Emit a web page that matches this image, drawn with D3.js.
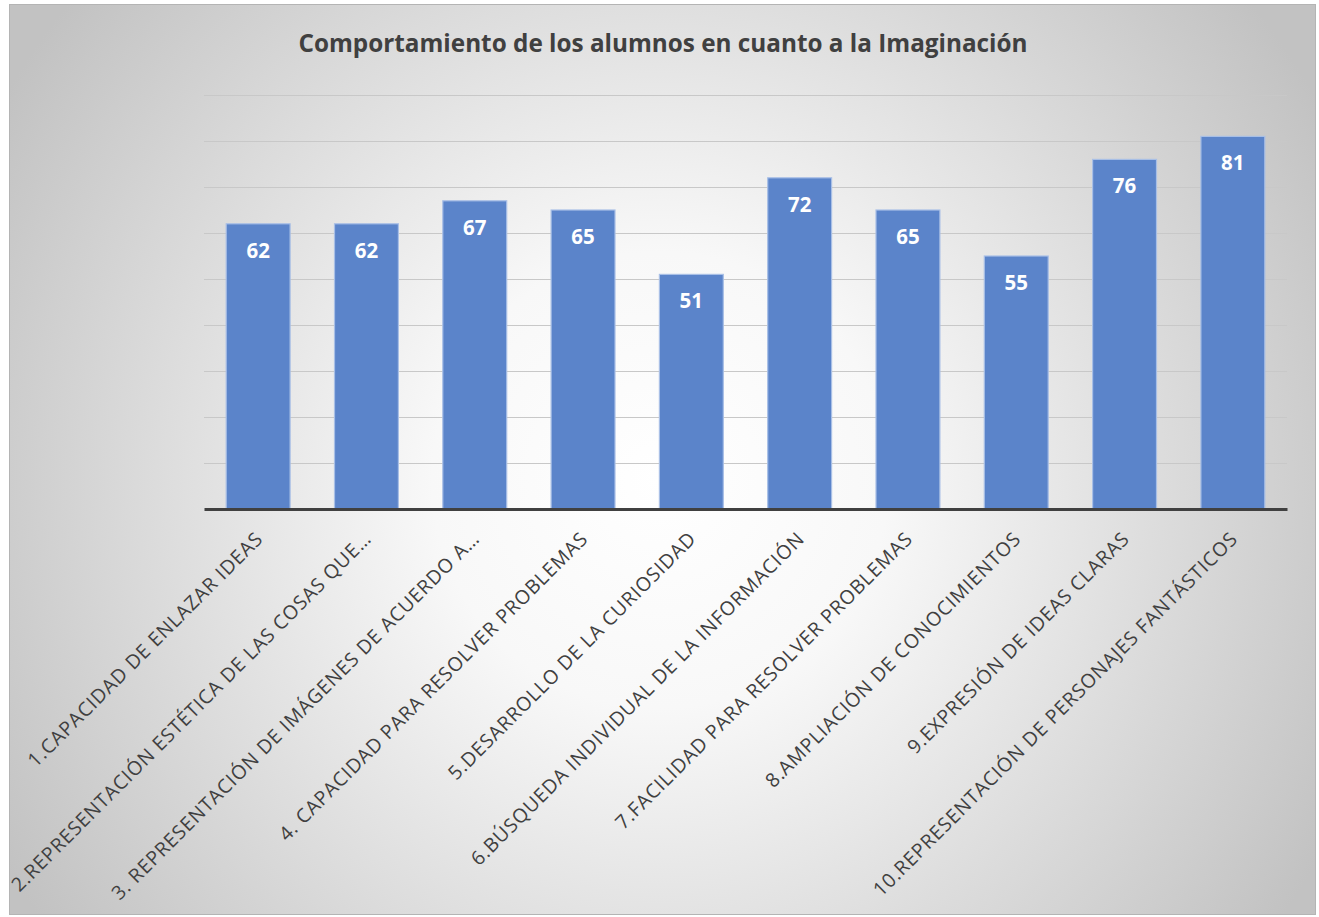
<!DOCTYPE html>
<html>
<head>
<meta charset="utf-8">
<script src="https://cdn.jsdelivr.net/npm/d3@7"></script>
<style>
  html, body { margin: 0; padding: 0; background: #ffffff; }
  svg { display: block; }
</style>
</head>
<body>
<svg id="chart" width="1319" height="917"></svg>
<script>
// Chart content
const chartTitle = "Comportamiento de los alumnos en cuanto a la Imaginación";
const categories = [
  "1.CAPACIDAD DE ENLAZAR IDEAS",
  "2.REPRESENTACIÓN ESTÉTICA DE LAS COSAS QUE…",
  "3. REPRESENTACIÓN DE IMÁGENES DE ACUERDO A…",
  "4. CAPACIDAD PARA RESOLVER PROBLEMAS",
  "5.DESARROLLO DE LA CURIOSIDAD",
  "6.BÚSQUEDA INDIVIDUAL DE LA INFORMACIÓN",
  "7.FACILIDAD PARA RESOLVER PROBLEMAS",
  "8.AMPLIACIÓN DE CONOCIMIENTOS",
  "9.EXPRESIÓN DE IDEAS CLARAS",
  "10.REPRESENTACIÓN DE PERSONAJES FANTÁSTICOS"
];
const values = [62, 62, 67, 65, 51, 72, 65, 55, 76, 81];
const gridTicks = [0, 10, 20, 30, 40, 50, 60, 70, 80, 90];

const svg = d3.select("#chart");
const W = 1319, H = 917;

// Background: chart frame with radial shading
const defs = svg.append("defs");
const grad = defs.append("radialGradient")
  .attr("id", "bg")
  .attr("gradientUnits", "userSpaceOnUse")
  .attr("cx", 660).attr("cy", 480).attr("r", 760);
grad.append("stop").attr("offset", "0%").attr("stop-color", "#ffffff");
grad.append("stop").attr("offset", "30%").attr("stop-color", "#f8f8f8");
grad.append("stop").attr("offset", "100%").attr("stop-color", "#c2c2c2");

svg.append("rect").attr("x", 0).attr("y", 0).attr("width", W).attr("height", H).attr("fill", "#ffffff");
svg.append("rect")
  .attr("x", 9.5).attr("y", 4.5).attr("width", 1306).attr("height", 910)
  .attr("fill", "url(#bg)")
  .attr("stroke", "#b4b4b4").attr("stroke-width", 1);

// Title
svg.append("text")
  .attr("x", 663).attr("y", 52)
  .attr("text-anchor", "middle")
  .attr("font-family", "'Open Sans', 'Noto Sans', sans-serif")
  .attr("font-weight", "bold")
  .attr("font-size", 24.3)
  .attr("fill", "#404040")
  .text(chartTitle);

// Plot area
const plot = { left: 204, right: 1287, top: 95, bottom: 509 };

const x = d3.scaleBand()
  .domain(categories)
  .range([plot.left, plot.right])
  .paddingInner(0.41)
  .paddingOuter(0.205);

const y = d3.scaleLinear()
  .domain([0, 90])
  .range([plot.bottom, plot.top]);

// Horizontal gridlines
svg.append("g")
  .selectAll("line")
  .data(gridTicks.filter(d => d > 0))
  .join("line")
  .attr("x1", plot.left).attr("x2", plot.right)
  .attr("y1", d => y(d) + 0.5).attr("y2", d => y(d) + 0.5)
  .attr("stroke", "#c8c8c8").attr("stroke-width", 1);

// Bars
svg.append("g")
  .selectAll("rect")
  .data(values)
  .join("rect")
  .attr("x", (d, i) => x(categories[i]))
  .attr("y", d => y(d))
  .attr("width", x.bandwidth())
  .attr("height", d => y(0) - y(d))
  .attr("fill", "#5b84ca")
  .attr("stroke", "#a8bfe6")
  .attr("stroke-width", 1.2);

// Value labels inside the bars
svg.append("g")
  .selectAll("text")
  .data(values)
  .join("text")
  .attr("x", (d, i) => x(categories[i]) + x.bandwidth() / 2)
  .attr("y", d => y(d) + 34)
  .attr("text-anchor", "middle")
  .attr("font-family", "'Open Sans', 'Noto Sans', sans-serif")
  .attr("font-weight", "bold")
  .attr("font-size", 20.5)
  .attr("fill", "#ffffff")
  .text(d => d);

// Category axis
const xAxis = d3.axisBottom(x).tickSize(0).tickPadding(0);
const gx = svg.append("g")
  .attr("transform", `translate(0,${plot.bottom})`)
  .call(xAxis);
gx.select(".domain")
  .attr("stroke", "#404040")
  .attr("stroke-width", 3.2);
gx.selectAll(".tick text")
  .attr("font-family", "'Open Sans', 'Noto Sans', sans-serif")
  .attr("font-size", 19.5)
  .attr("letter-spacing", 0.8)
  .attr("fill", "#404040")
  .attr("text-anchor", "end")
  .attr("dy", null)
  .attr("y", 0)
  .attr("transform", "translate(6,31) rotate(-45)");
</script>
</body>
</html>
